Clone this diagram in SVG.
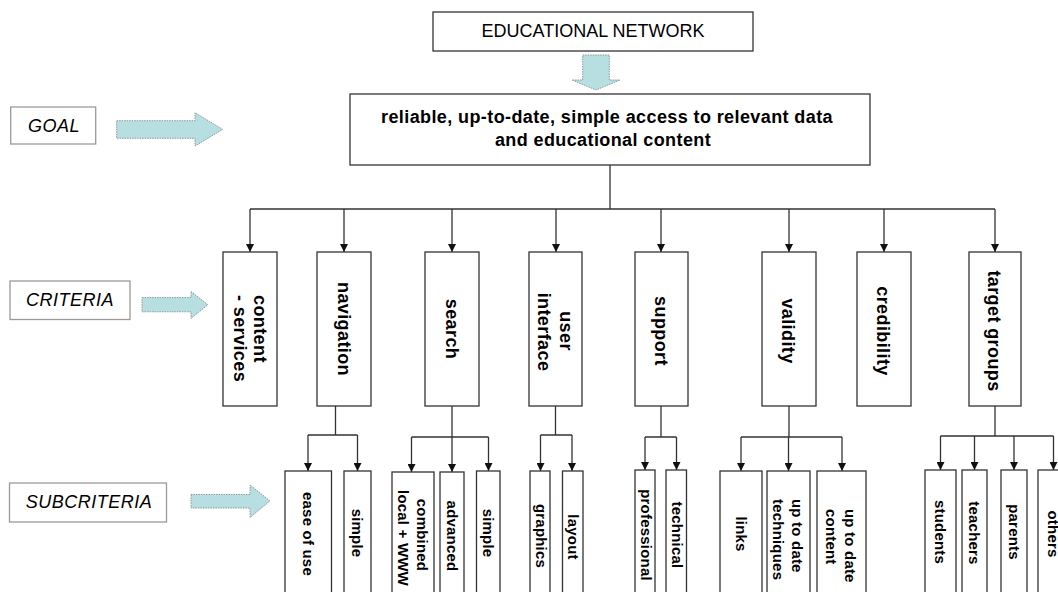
<svg xmlns="http://www.w3.org/2000/svg" width="1058" height="592" viewBox="0 0 1058 592">
<style>
.bg{fill:#fff}
.box{fill:#fff;stroke:#333;stroke-width:1.3}
.lbl{fill:#fff;stroke:#9a9a9a;stroke-width:1.3}
.blk{fill:#b7dee0;stroke:#8c9a9a;stroke-width:1;stroke-dasharray:1.5 1}
.ln{fill:none;stroke:#333;stroke-width:1.3}
.t{font-family:"Liberation Sans",Arial,sans-serif;fill:#000}
.top{font-size:18px}
.goal{font-size:18px;font-weight:bold;letter-spacing:0.4px}
.side{font-size:18px;font-style:italic;letter-spacing:0.5px}
.crit{font-size:18px;font-weight:bold;letter-spacing:0.4px}
.sub{font-size:15px;font-weight:bold;letter-spacing:0.2px}
</style>
<defs>
<marker id="ah" viewBox="0 0 10 10" refX="10" refY="5" markerWidth="9" markerHeight="8" markerUnits="userSpaceOnUse" orient="auto">
<path d="M0,0 L10,5 L0,10 z" fill="#111"/>
</marker>
</defs>
<rect class="bg" x="0" y="0" width="1058" height="592"/>

<g id="connectors">
<path class="ln" d="M610,165 V209 M250,209 H995"/>
<path class="ln" marker-end="url(#ah)" d="M250,209 V252"/>
<path class="ln" marker-end="url(#ah)" d="M344,209 V252"/>
<path class="ln" marker-end="url(#ah)" d="M452,209 V252"/>
<path class="ln" marker-end="url(#ah)" d="M556,209 V252"/>
<path class="ln" marker-end="url(#ah)" d="M661,209 V252"/>
<path class="ln" marker-end="url(#ah)" d="M789,209 V252"/>
<path class="ln" marker-end="url(#ah)" d="M884,209 V252"/>
<path class="ln" marker-end="url(#ah)" d="M995,209 V252"/>

<path class="ln" d="M335.5,406 V435 M308,435 H357.5"/>
<path class="ln" marker-end="url(#ah)" d="M308,435 V471"/>
<path class="ln" marker-end="url(#ah)" d="M357.5,435 V471"/>

<path class="ln" d="M452,406 V437 M411.5,437 H488.5"/>
<path class="ln" marker-end="url(#ah)" d="M411.5,437 V472"/>
<path class="ln" marker-end="url(#ah)" d="M452,437 V472"/>
<path class="ln" marker-end="url(#ah)" d="M488.5,437 V471"/>

<path class="ln" d="M555.5,406 V435 M540.5,435 H572"/>
<path class="ln" marker-end="url(#ah)" d="M540.5,435 V471"/>
<path class="ln" marker-end="url(#ah)" d="M572,435 V471"/>

<path class="ln" d="M661,406 V437 M645,437 H676.5"/>
<path class="ln" marker-end="url(#ah)" d="M645,437 V470"/>
<path class="ln" marker-end="url(#ah)" d="M676.5,437 V470"/>

<path class="ln" d="M789,406 V437 M741,437 H842"/>
<path class="ln" marker-end="url(#ah)" d="M741,437 V471"/>
<path class="ln" marker-end="url(#ah)" d="M788.5,437 V471"/>
<path class="ln" marker-end="url(#ah)" d="M842,437 V471"/>

<path class="ln" d="M995,406 V436 M940.5,436 H1053.5"/>
<path class="ln" marker-end="url(#ah)" d="M940.5,436 V470"/>
<path class="ln" marker-end="url(#ah)" d="M974.5,436 V470"/>
<path class="ln" marker-end="url(#ah)" d="M1014,436 V470"/>
<path class="ln" marker-end="url(#ah)" d="M1053.5,436 V470"/>
</g>

<g id="block-arrows">
<path class="blk" d="M582.7,55 H609.3 V80 H620 L596,90 L572,80 H582.7 Z"/>
<path class="blk" d="M116.7,120.7 H195 V112.7 L222.7,129.4 L195,146 V138.3 H116.7 Z"/>
<path class="blk" d="M142,297.6 H191 V291.5 L207.8,304.7 L191,318.5 V311.8 H142 Z"/>
<path class="blk" d="M191,494.5 H250 V485 L270,501 L250,517.4 V508 H191 Z"/>
</g>

<g id="network">
<rect class="box" x="433" y="12" width="320" height="39"/>
<text class="t top" x="593" y="37" text-anchor="middle">EDUCATIONAL NETWORK</text>
</g>

<g id="goal">
<rect class="box" x="350" y="94" width="520" height="71"/>
<text class="t goal" x="607" y="123" text-anchor="middle">reliable, up-to-date, simple access to relevant data</text>
<text class="t goal" x="603" y="146" text-anchor="middle">and educational content</text>
</g>

<g id="label-goal">
<rect class="lbl" x="10.7" y="107" width="85" height="37"/>
<text class="t side" x="54" y="132" text-anchor="middle">GOAL</text>
</g>
<g id="label-criteria">
<rect class="lbl" x="10" y="281" width="120" height="38.5"/>
<text class="t side" x="70" y="306" text-anchor="middle">CRITERIA</text>
</g>
<g id="label-subcriteria">
<rect class="lbl" x="9.5" y="483" width="157" height="39"/>
<text class="t side" x="89" y="508" text-anchor="middle">SUBCRITERIA</text>
</g>

<g id="c-content">
<rect class="box" x="223" y="252" width="54" height="154"/>
<text class="t crit" transform="translate(250,0) rotate(90)" x="295" y="-4">content</text>
<text class="t crit" transform="translate(250,0) rotate(90)" x="295" y="16.5">- services</text>
</g>
<g id="c-navigation">
<rect class="box" x="317" y="252" width="54" height="154"/>
<text class="t crit" transform="translate(344,0) rotate(90)" x="329" y="6.5" text-anchor="middle">navigation</text>
</g>
<g id="c-search">
<rect class="box" x="425" y="252" width="54" height="154"/>
<text class="t crit" transform="translate(452,0) rotate(90)" x="329" y="6.5" text-anchor="middle">search</text>
</g>
<g id="c-ui">
<rect class="box" x="529" y="252" width="53" height="154"/>
<text class="t crit" transform="translate(555.5,0) rotate(90)" x="331" y="-4" text-anchor="middle">user</text>
<text class="t crit" transform="translate(555.5,0) rotate(90)" x="332" y="17.5" text-anchor="middle">interface</text>
</g>
<g id="c-support">
<rect class="box" x="635" y="252" width="53" height="154"/>
<text class="t crit" transform="translate(661.5,0) rotate(90)" x="331" y="6.5" text-anchor="middle">support</text>
</g>
<g id="c-validity">
<rect class="box" x="762" y="252" width="54" height="154"/>
<text class="t crit" transform="translate(788,0) rotate(90)" x="331" y="6.5" text-anchor="middle">validity</text>
</g>
<g id="c-credibility">
<rect class="box" x="857" y="252" width="54" height="154"/>
<text class="t crit" transform="translate(883,0) rotate(90)" x="331" y="6.5" text-anchor="middle">credibility</text>
</g>
<g id="c-target">
<rect class="box" x="969" y="252" width="52" height="154"/>
<text class="t crit" transform="translate(994,0) rotate(90)" x="331" y="6.5" text-anchor="middle">target groups</text>
</g>

<g id="s-ease">
<rect class="box" x="285" y="471" width="46.5" height="130"/>
<text class="t sub" transform="translate(308,0) rotate(90)" x="534" y="5.5" text-anchor="middle">ease of use</text>
</g>
<g id="s-nav-simple">
<rect class="box" x="344" y="471" width="27" height="130"/>
<text class="t sub" transform="translate(357.5,0) rotate(90)" x="533" y="5.5" text-anchor="middle">simple</text>
</g>
<g id="s-combined">
<rect class="box" x="392" y="472" width="42" height="130"/>
<text class="t sub" transform="translate(412.5,0) rotate(90)" x="535" y="-4" text-anchor="middle">combined</text>
<text class="t sub" transform="translate(412.5,0) rotate(90)" x="538" y="14.5" text-anchor="middle">local + WWW</text>
</g>
<g id="s-advanced">
<rect class="box" x="440" y="472" width="24" height="130"/>
<text class="t sub" transform="translate(452,0) rotate(90)" x="536" y="5.5" text-anchor="middle">advanced</text>
</g>
<g id="s-search-simple">
<rect class="box" x="476.5" y="471" width="23.5" height="130"/>
<text class="t sub" transform="translate(488.5,0) rotate(90)" x="533" y="5.5" text-anchor="middle">simple</text>
</g>
<g id="s-graphics">
<rect class="box" x="530" y="471" width="20" height="130"/>
<text class="t sub" transform="translate(540,0) rotate(90)" x="536" y="4" text-anchor="middle">graphics</text>
</g>
<g id="s-layout">
<rect class="box" x="562.5" y="471" width="20.5" height="130"/>
<text class="t sub" transform="translate(572.5,0) rotate(90)" x="537" y="5" text-anchor="middle">layout</text>
</g>
<g id="s-professional">
<rect class="box" x="635" y="470" width="20" height="130"/>
<text class="t sub" transform="translate(645,0) rotate(90)" x="535" y="4" text-anchor="middle">professional</text>
</g>
<g id="s-technical">
<rect class="box" x="666" y="470" width="20.5" height="130"/>
<text class="t sub" transform="translate(676.5,0) rotate(90)" x="535" y="5" text-anchor="middle">technical</text>
</g>
<g id="s-links">
<rect class="box" x="720" y="471" width="42" height="130"/>
<text class="t sub" transform="translate(741,0) rotate(90)" x="534" y="5.5" text-anchor="middle">links</text>
</g>
<g id="s-techniques">
<rect class="box" x="767" y="471" width="43" height="130"/>
<text class="t sub" transform="translate(788,0) rotate(90)" x="499">
<tspan y="-3.5">up to date</tspan><tspan x="499" y="15.5">techniques</tspan></text>
</g>
<g id="s-content">
<rect class="box" x="817" y="471" width="49" height="130"/>
<text class="t sub" transform="translate(841.5,0) rotate(90)" x="509">
<tspan y="-3">up to date</tspan><tspan x="509" y="16">content</tspan></text>
</g>
<g id="s-students">
<rect class="box" x="925" y="470" width="31" height="130"/>
<text class="t sub" transform="translate(940.5,0) rotate(90)" x="532" y="5.5" text-anchor="middle">students</text>
</g>
<g id="s-teachers">
<rect class="box" x="962" y="470" width="25" height="130"/>
<text class="t sub" transform="translate(974.5,0) rotate(90)" x="533" y="5.5" text-anchor="middle">teachers</text>
</g>
<g id="s-parents">
<rect class="box" x="1001" y="470" width="26" height="130"/>
<text class="t sub" transform="translate(1014,0) rotate(90)" x="532" y="5.5" text-anchor="middle">parents</text>
</g>
<g id="s-others">
<rect class="box" x="1038" y="470" width="30" height="130"/>
<text class="t sub" transform="translate(1053,0) rotate(90)" x="534" y="5.5" text-anchor="middle">others</text>
</g>
</svg>
